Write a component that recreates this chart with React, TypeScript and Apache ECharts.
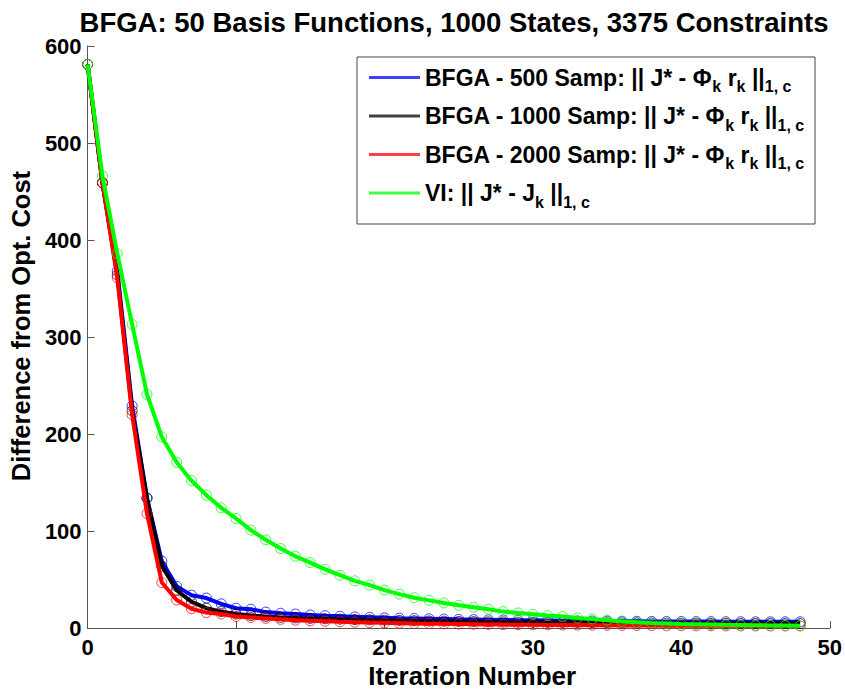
import React, { useEffect, useRef } from "react";
import * as echarts from "echarts";

const iterations = [0,1,2,3,4,5,6,7,8,9,10,11,12,13,14,15,16,17,18,19,20,21,22,23,24,25,26,27,28,29,30,31,32,33,34,35,36,37,38,39,40,41,42,43,44,45,46,47,48];

const bfga500 = [581,459,368,229,134,69,43,34,31,25,20.5,19.5,16.5,15.3,14.5,13.5,12.8,12.2,11.6,11.1,10.6,10.2,9.9,9.6,9.3,9.0,8.8,8.6,8.4,8.2,8.0,7.8,7.6,7.4,7.3,7.2,7.1,7.0,6.9,6.8,6.8,6.7,6.7,6.6,6.6,6.5,6.5,6.5,6.5];
const bfga1000 = [581,459,364,224,134,64,39,27,20.5,17,14.5,13,12,11,10.5,10,9.6,9.2,8.8,8.5,8.2,7.9,7.6,7.3,7.1,6.9,6.7,6.5,6.3,6.1,6.0,5.9,5.8,5.7,5.6,5.5,5.4,5.3,5.2,5.1,5.0,5.0,4.9,4.9,4.8,4.8,4.8,4.7,4.7];
const bfga2000 = [581,459,361,220,118,47,29,20,16,14.5,12,11,10,9,8.2,7.5,7,6.5,6.1,5.7,5.4,5.1,4.8,4.6,4.4,4.2,4.0,3.8,3.6,3.5,3.4,3.3,3.2,3.1,3.0,2.9,2.8,2.7,2.6,2.5,2.5,2.4,2.4,2.3,2.3,2.2,2.2,2.2,2.2];
const vi = [581,466,386,313,241,197,171,152,137,124,113,101,91,82,74,67.5,60.6,54.5,48.7,44.3,39.2,35,31.3,28.6,25.9,23.5,21.5,19.4,17,15.6,14.3,12.9,11.9,10.5,9.5,8.2,6.8,6.0,5.3,4.8,4.3,4.0,3.7,3.4,3.2,3.0,2.8,2.6,2.4];

const seriesNames = [
  "BFGA - 500 Samp",
  "BFGA - 1000 Samp",
  "BFGA - 2000 Samp",
  "VI",
];
const legendLabels = [
  "BFGA - 500 Samp: || J* - Φ{sub|k} r{sub|k} ||{sub|1, c}",
  "BFGA - 1000 Samp: || J* - Φ{sub|k} r{sub|k} ||{sub|1, c}",
  "BFGA - 2000 Samp: || J* - Φ{sub|k} r{sub|k} ||{sub|1, c}",
  "VI: || J* - J{sub|k} ||{sub|1, c}",
];
const seriesColors = ["#0000ff", "#000000", "#ff0000", "#00ff00"];
const seriesValues = [bfga500, bfga1000, bfga2000, vi];

const xTicks = { min: 0, max: 50, interval: 10 };
const yTicks = { min: 0, max: 600, interval: 100 };

const FONT = "Liberation Sans";

export default function App() {
  const ref = useRef<HTMLDivElement>(null);
  useEffect(() => {
    if (!ref.current) return;
    const chart = echarts.init(ref.current, null, { renderer: "svg" });
    const axisColor = "#555555";
    const labelMap: Record<string, string> = {};
    seriesNames.forEach((n, i) => (labelMap[n] = legendLabels[i]));
    chart.setOption({
      animation: false,
      backgroundColor: "#ffffff",
      title: {
        text: "BFGA: 50 Basis Functions, 1000 States, 3375 Constraints",
        left: 449,
        top: 3,
        textAlign: "center",
        textStyle: { fontFamily: FONT, fontSize: 27.5, fontWeight: "bold", color: "#000" },
      },
      grid: { left: 87, right: 15, top: 46, bottom: 61, containLabel: false },
      xAxis: {
        type: "value",
        min: xTicks.min,
        max: xTicks.max,
        interval: xTicks.interval,
        name: "Iteration Number",
        nameLocation: "middle",
        nameGap: 31,
        nameTextStyle: {
          fontFamily: FONT,
          fontSize: 26,
          fontWeight: "bold",
          color: "#000",
          padding: [0, 0, 0, 27],
        },
        axisLine: { show: true, lineStyle: { color: axisColor, width: 1 } },
        axisTick: { show: true, inside: true, length: 7, lineStyle: { color: axisColor } },
        axisLabel: { fontFamily: FONT, fontSize: 22, fontWeight: "bold", color: "#000", margin: 8 },
        splitLine: { show: false },
      },
      yAxis: {
        type: "value",
        min: yTicks.min,
        max: yTicks.max,
        interval: yTicks.interval,
        name: "Difference from Opt. Cost",
        nameLocation: "middle",
        nameGap: 51,
        nameTextStyle: {
          fontFamily: FONT,
          fontSize: 25.5,
          fontWeight: "bold",
          color: "#000",
          padding: [0, 0, 0, 22],
        },
        axisLine: { show: true, lineStyle: { color: axisColor, width: 1 } },
        axisTick: { show: true, inside: true, length: 7, lineStyle: { color: axisColor } },
        axisLabel: { fontFamily: FONT, fontSize: 22, fontWeight: "bold", color: "#000", margin: 6 },
        splitLine: { show: false },
      },
      graphic: [
        {
          type: "rect",
          z: 1,
          shape: { x: 357, y: 57, width: 458, height: 167 },
          style: { fill: "#ffffff", stroke: "#444444", lineWidth: 1 },
        },
      ],
      legend: {
        z: 5,
        orient: "vertical",
        left: 369,
        top: 66,
        padding: 0,
        itemGap: 10,
        itemWidth: 51,
        itemHeight: 3,
        selectedMode: false,
        data: seriesNames.map((n, i) => ({
          name: n,
          icon: "rect",
          itemStyle: { color: seriesColors[i], borderWidth: 0 },
        })),
        formatter: (name: string) => labelMap[name],
        textStyle: {
          fontFamily: FONT,
          fontSize: 23,
          fontWeight: "bold",
          color: "#000",
          rich: {
            sub: {
              fontFamily: FONT,
              fontSize: 16,
              fontWeight: "bold",
              color: "#000",
              padding: [18, 0, 0, 0],
            },
          },
        },
      },
      series: seriesNames.map((n, i) => ({
        name: n,
        type: "line",
        data: iterations.map((x, j) => [x, seriesValues[i][j]]),
        symbol: "circle",
        symbolSize: 10,
        showSymbol: true,
        lineStyle: { color: seriesColors[i], width: 4 },
        itemStyle: { color: "transparent", borderColor: seriesColors[i], borderWidth: 1, opacity: 0.75 },
        emphasis: { disabled: true },
        z: 2 + i,
      })),
    });
    return () => chart.dispose();
  }, []);
  return (
    <div
      ref={ref}
      style={{ position: "fixed", left: 0, top: 0, width: 845, height: 694 }}
    />
  );
}
